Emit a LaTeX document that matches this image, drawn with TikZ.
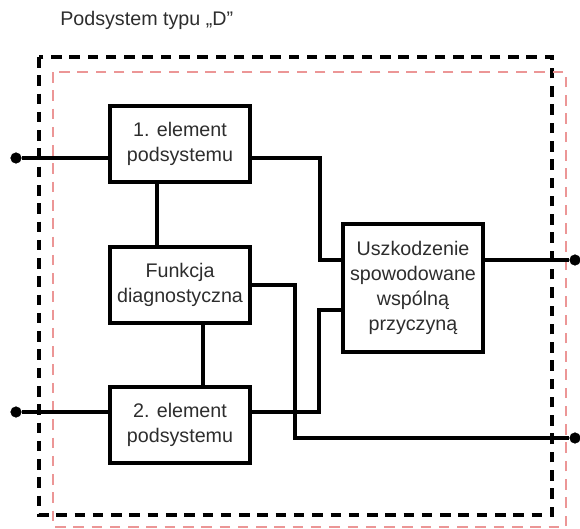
\documentclass[tikz,border=0pt]{standalone}
\usepackage{fontspec}
\setmainfont{Liberation Sans}
\usepackage{tikz}
\usetikzlibrary{shapes, arrows, positioning}
\definecolor{czerwony}{RGB}{236,150,150}
\definecolor{tekst}{RGB}{45,45,45}
\tikzstyle{blok}  = [draw, line width=2.3pt, rectangle, align=center, inner sep=0pt,
                     minimum width=3.5cm, minimum height=1.9cm, text=tekst,
                     font=\fontsize{14}{17.8}\selectfont]
\tikzstyle{wez}   = [draw, fill, circle, inner sep=0pt, minimum size=7.5pt]
\tikzstyle{lin}   = [draw, line width=2.3pt]
\tikzstyle{ramka} = [draw, line width=2.7pt, dash pattern=on 7.5pt off 5.5pt]

\begin{document}
\begin{tikzpicture}[x=0.025cm, y=-0.025cm]
\useasboundingbox (0,0) rectangle (580,528);

% frames
\draw [ramka]                                     (39,57) rectangle (552,515);
\draw [ramka, czerwony, line width=1.6pt]          (53,72) rectangle (566,527);
\node [anchor=base west, text=tekst, inner sep=0pt,
       font=\fontsize{14}{17}\selectfont] at ( 60, 25) (tytul) {Podsystem typu „D”};

% nodes
\node [blok]                        at (180, 144) (el1) {1. element\\podsystemu};
\node [blok]                        at (180, 285) (fd)  {Funkcja\\diagnostyczna};
\node [blok]                        at (180, 425) (el2) {2. element\\podsystemu};
\node [blok, minimum height=3.2cm]  at (413, 288) (ccf) {Uszkodzenie\\spowodowane\\wspólną\\przyczyną};

\node [wez] at ( 16, 158) (we1)  {};
\node [wez] at ( 16, 412) (we2)  {};
\node [wez] at (575, 260) (wy1)  {};
\node [wez] at (575, 438) (wy2)  {};

\coordinate (k1) at (157,   0);
\coordinate (k2) at (203,   0);
\coordinate (j1) at (320, 260);
\coordinate (j2) at (295, 285);
\coordinate (j3) at (319, 310);

%  edges
\path [lin] (we1) -- (we1 -| el1.west);
\path [lin] (we2) -- (we2 -| el2.west);
\path [lin] (el1.south -| k1) -- (fd.north -| k1);
\path [lin] (fd.south -| k2)  -- (el2.north -| k2);
\path [lin] (el1.east |- we1) -| (j1) -- (j1 -| ccf.west);
\path [lin] (el2.east |- we2) -| (j3) -- (j3 -| ccf.west);
\path [lin] (fd.east |- j2)   -| (j2 |- wy2) -- (wy2);
\path [lin] (ccf.east |- wy1) -- (wy1);

\end{tikzpicture}
\end{document}
